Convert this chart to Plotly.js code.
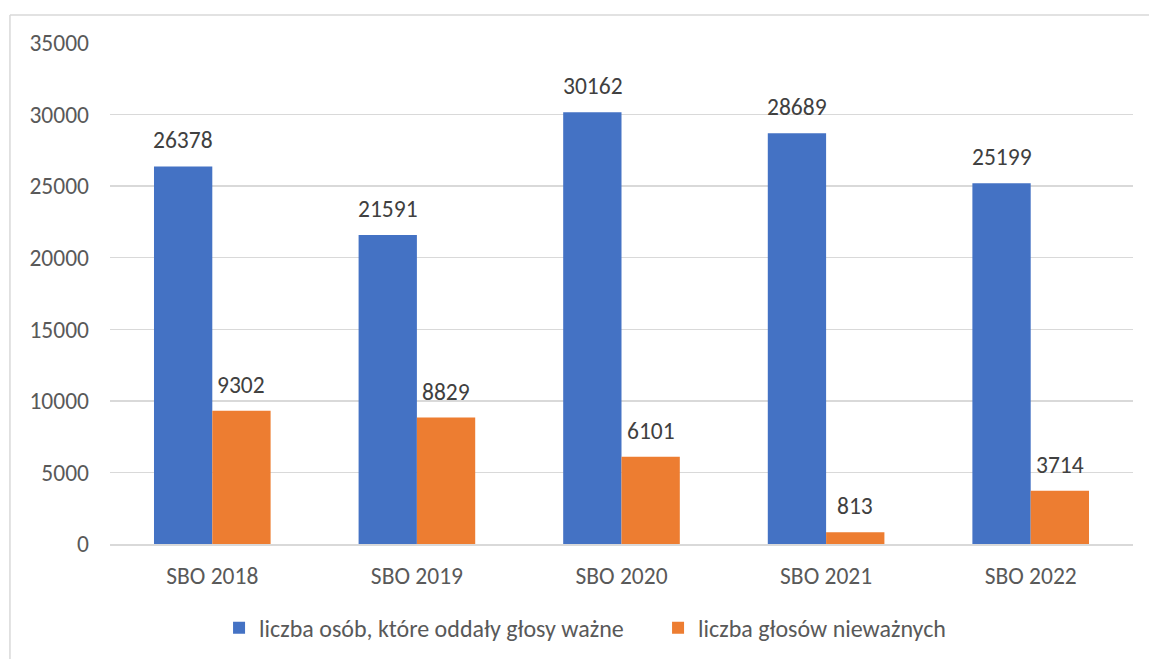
<!DOCTYPE html>
<html><head><meta charset="utf-8">
<script src="https://cdn.plot.ly/plotly-3.0.1.min.js"></script>
<style>html,body{margin:0;padding:0;background:#fff}#c{width:1149px;height:659px}</style>
</head><body><div id="c"></div>
<script>
const categories = ["SBO 2018","SBO 2019","SBO 2020","SBO 2021","SBO 2022"];
const validVoters = [26378, 21591, 30162, 28689, 25199];
const invalidVotes = [9302, 8829, 6101, 813, 3714];
const seriesNames = ["liczba osób, które oddały głosy ważne","liczba głosów nieważnych"];
const yTicks = [0,5000,10000,15000,20000,25000,30000,35000];

const font = "Carlito, Calibri, Lato, 'Open Sans', sans-serif";
const traces = [
  {type:'bar', x:categories, y:validVoters, name:seriesNames[0], marker:{color:'#4472c4'}},
  {type:'bar', x:categories, y:invalidVotes, name:seriesNames[1], marker:{color:'#ed7d31'}}
];
const annotations = [];
[validVoters, invalidVotes].forEach((vals, si) => {
  vals.forEach((v, i) => {
    annotations.push({x:categories[i], y:v, xref:'x', yref:'y', text:String(v), showarrow:false,
      xanchor:'center', yanchor:'bottom', xshift: si === 0 ? -29 : 29, yshift:10,
      font:{size:23.5, color:'#404040', family:font}});
  });
});
const layout = {
  width:1149, height:659,
  margin:{l:110, r:16, t:43, b:115},
  paper_bgcolor:'#fff', plot_bgcolor:'#fff',
  font:{family:font, size:23.5, color:'#595959'},
  barmode:'group', bargap:0.43, bargroupgap:0,
  showlegend:true,
  legend:{orientation:'h', x:0.1066, xanchor:'left', yref:'container', y:0.047, yanchor:'middle', font:{size:24,color:'#595959'},
          itemwidth:30, tracegroupgap:0, entrywidth:394, entrywidthmode:'pixels'},
  xaxis:{showgrid:false, showline:true, linecolor:'#d9d9d9', linewidth:1.5, ticks:'', tickfont:{size:23.5}, ticklabelstandoff:10, fixedrange:true},
  yaxis:{range:[0,35000], tickvals:yTicks, ticktext:yTicks.map(String), showgrid:true, gridcolor:'#d9d9d9', gridwidth:1.5, zeroline:false, showline:false, ticks:'', tickfont:{size:23.5}, ticklabelstandoff:20, automargin:false},
  annotations: annotations,
  shapes:[
    {type:'line', xref:'paper', yref:'paper', x0:-0.0978, x1:1.02, y0:1.0559, y1:1.0559, line:{color:'#d9d9d9', width:1.5}},
    {type:'line', xref:'paper', yref:'paper', x0:-0.0978, x1:-0.0978, y0:1.0559, y1:-0.25, line:{color:'#d9d9d9', width:1.5}}
  ]
};
Plotly.newPlot('c', traces, layout, {displayModeBar:false, staticPlot:true});
</script></body></html>
